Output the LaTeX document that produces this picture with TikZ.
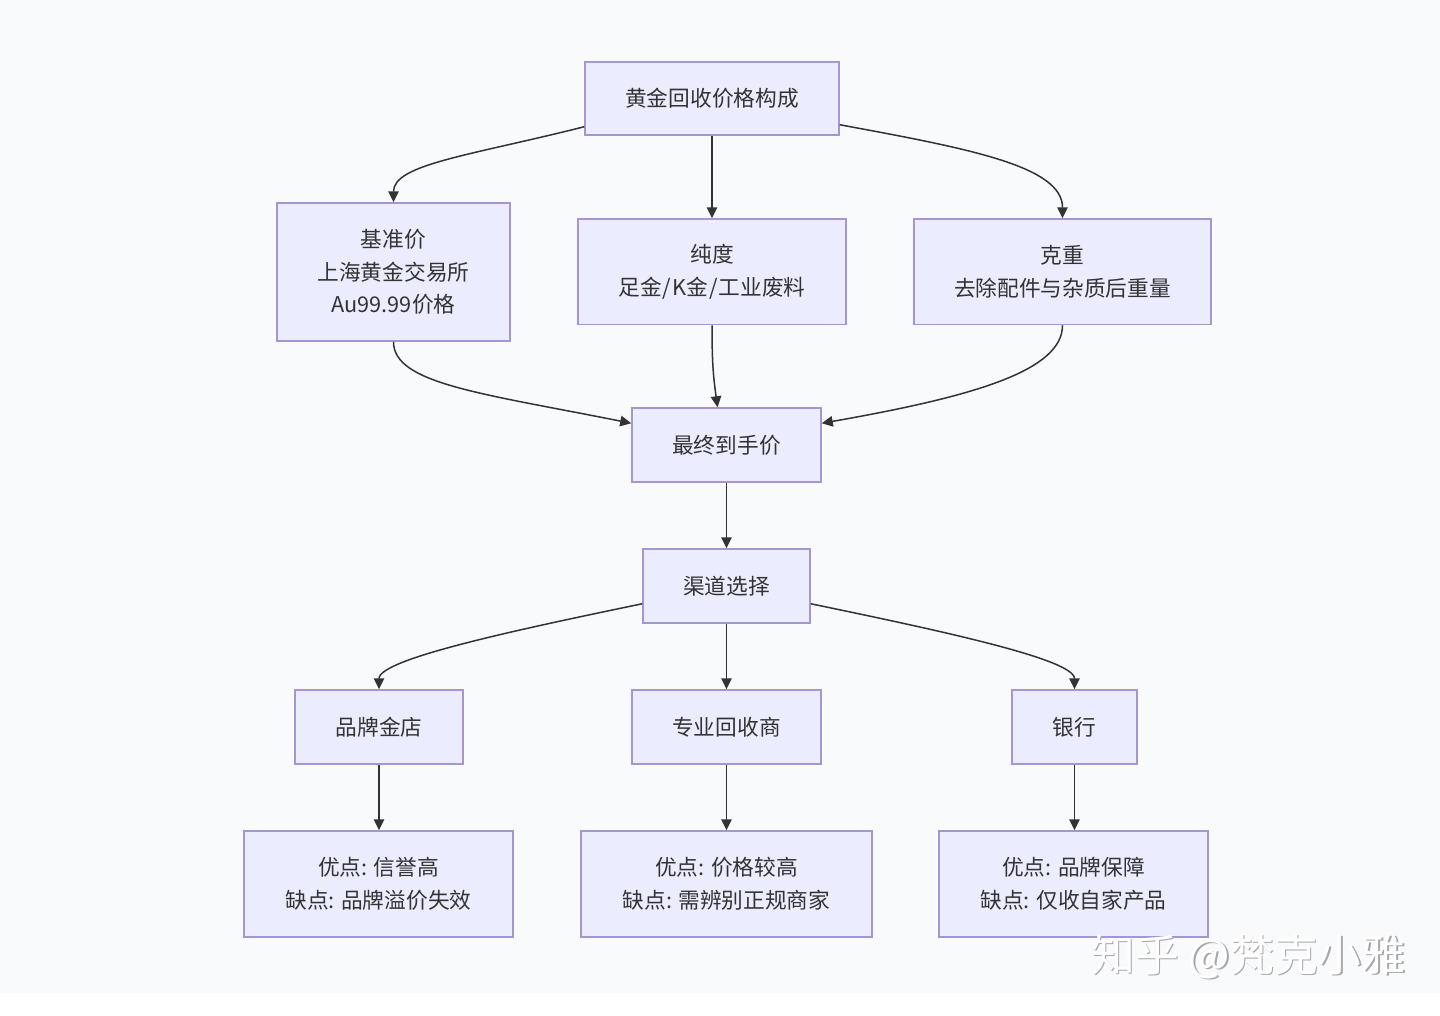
\documentclass[tikz,border=0pt]{standalone}
\usepackage{fontspec}
\setmainfont{Noto Sans CJK SC}[Scale=1]
\newfontfamily\wmfont{Noto Sans CJK SC}
\usetikzlibrary{arrows.meta}
\definecolor{bgc}{HTML}{F9FAFC}
\definecolor{boxfill}{HTML}{ECECFF}
\definecolor{boxline}{HTML}{A596CF}
\definecolor{ink}{HTML}{333333}
\definecolor{wmgray}{HTML}{A8A8A8}
\tikzset{
  box/.style={draw=boxline,fill=boxfill,line width=1.5pt,rectangle,inner sep=0pt,align=center,text=ink,
    font=\fontsize{21.7pt}{32.7pt}\selectfont},
  link/.style={draw=ink,line width=1.5pt,-{Triangle[length=11pt,width=10.5pt,color=ink]}},
  wm/.style={font=\wmfont\fontsize{43.8pt}{46pt}\selectfont,inner sep=0pt,anchor=center}
}
\newcommand{\boxat}[6]{\node[box,minimum width=#4pt-#3pt,minimum height=#6pt-#5pt] (#1) at ({(#3+#4)/2},{(#5+#6)/2}) {#2};}
\newcommand{\colongap}{:\kern1.5pt\ }
\newcommand{\slashgap}{\kern1pt/\kern1pt}
\begin{document}
\begin{tikzpicture}[x=1pt,y=-1pt]
\useasboundingbox (0,0) rectangle (1440,1015);
\fill[white] (0,0) rectangle (1440,1015);
\fill[bgc] (0,0) rectangle (1440,993);
\boxat{A}{黄金回收价格构成}{585}{839}{62}{135}
\boxat{B}{基准价\\上海黄金交易所\\Au99.99价格}{277}{510}{203}{341}
\boxat{C}{纯度\\足金\slashgap K金\slashgap 工业废料}{578}{846}{219}{324.5}
\boxat{D}{克重\\去除配件与杂质后重量}{914}{1211}{219}{324.5}
\boxat{E}{最终到手价}{632}{821}{408}{482}
\boxat{F}{渠道选择}{643}{810}{549}{623}
\boxat{G}{品牌金店}{295}{463}{690}{764}
\boxat{H}{专业回收商}{632}{821}{690}{764}
\boxat{I}{银行}{1012}{1137}{690}{764}
\boxat{J}{优点\colongap 信誉高\\缺点\colongap 品牌溢价失效}{244}{513}{831}{937}
\boxat{K}{优点\colongap 价格较高\\缺点\colongap 需辨别正规商家}{581}{872}{831}{937}
\boxat{L}{优点\colongap 品牌保障\\缺点\colongap 仅收自家产品}{939}{1208}{831}{937}
% top fan
\draw[link] ([yshift=9pt]A.south west) .. controls +(-115,29) and +(0,-38) .. (B.north);
\draw[link] (A.south) -- (C.north);
\draw[link] ([yshift=11pt]A.south east) .. controls +(130,24) and +(0,-52) .. (D.north);
% merge
\draw[link] (B.south) .. controls +(0,42) and +(-150,-30) .. ([yshift=-16pt]E.north west);
\draw[link] (C.south) .. controls +(0,40) and +(-4,-30) .. ([xshift=-9pt]E.north);
\draw[link] (D.south) .. controls +(0,45) and +(154,-27) .. ([yshift=-16pt]E.north east);
\draw[link] (E.south) -- (F.north);
% channels
\draw[link] ([yshift=20pt]F.south west) .. controls +(-130,27) and +(0,-30) .. (G.north);
\draw[link] (F.south) -- (H.north);
\draw[link] ([yshift=20pt]F.south east) .. controls +(130,27) and +(0,-30) .. (I.north);
\draw[link] (G.south) -- (G.south |- J.north);
\draw[link] (H.south) -- (K.north);
\draw[link] (I.south) -- (I.south |- L.north);
% watermark
\node[wm,text=wmgray] (wmshadow) at (1250,958) {知乎 @梵克小雅};
\node[wm,text=white] (wmtext) at (1248.5,956.5) {知乎 @梵克小雅};
\end{tikzpicture}
\end{document}
